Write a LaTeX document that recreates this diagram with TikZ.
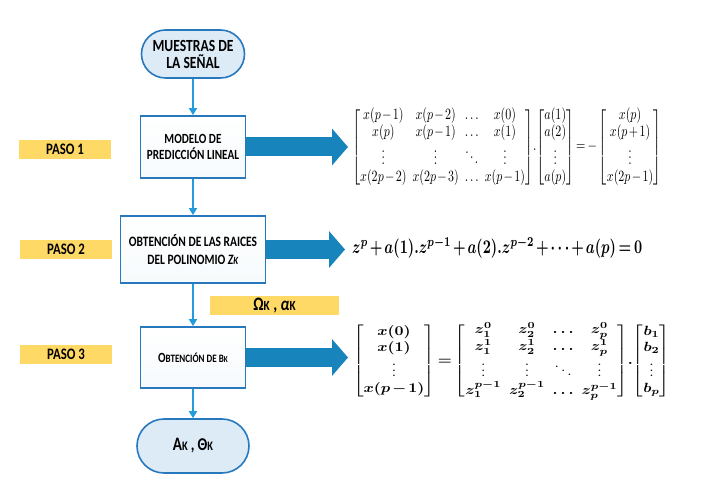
\documentclass[tikz,border=0pt]{standalone}
\usepackage{fontspec}
\usepackage{amsmath}
\usepackage{graphicx}
\usetikzlibrary{arrows.meta,shapes.misc,calc}
\newfontfamily\calib[FakeStretch=0.8]{Carlito}
\definecolor{boxblue}{RGB}{40,120,190}
\definecolor{termfill}{RGB}{221,235,247}
\definecolor{lineblue}{RGB}{35,155,220}
\definecolor{arrowblue}{RGB}{24,132,188}
\definecolor{pasoyellow}{RGB}{255,217,102}
\definecolor{boxfill}{RGB}{246,250,252}
\newcommand\tightmath[1]{\setlength{\arraycolsep}{2.5pt}\renewcommand{\arraystretch}{#1}\medmuskip=2mu\relax\thickmuskip=3mu\relax}
\tikzset{
  term/.style={rounded rectangle, draw=boxblue, line width=1.6pt, fill=termfill,
    minimum width=103pt, minimum height=48pt, inner sep=0pt, align=center,
    font=\calib\bfseries\fontsize{17}{19}\selectfont},
  stepbox/.style={rectangle, draw=boxblue, line width=1.8pt, top color=white, bottom color=boxfill,
    minimum width=105pt, minimum height=62pt, inner sep=0pt, align=center,
    font=\calib\bfseries},
  paso/.style={rectangle, fill=pasoyellow, minimum width=92pt, minimum height=19pt,
    inner sep=0pt, font=\calib\bfseries\fontsize{16}{18}\selectfont},
  flow/.style={draw=lineblue, line width=1.8pt, -{Triangle[width=8pt,length=7pt]}},
  bigarrow/.style={draw=arrowblue, line width=19pt, -{Triangle[width=36pt,length=16pt]}},
  eqn/.style={inner sep=0pt, anchor=west},
  boldeqn/.style={eqn, font=\boldmath},
}
\begin{document}
\begin{tikzpicture}[x=1pt,y=-1pt]
\useasboundingbox (0,0) rectangle (715,502);
% flow nodes
\node[term] (t0) at (193,54) {MUESTRAS DE\\[-2pt]LA SEÑAL};
\node[stepbox, font=\calib\bfseries\fontsize{14}{16.5}\selectfont] (b1) at (193,147) {MODELO DE\\PREDICCIÓN LINEAL};
\node[stepbox, minimum width=145pt, minimum height=67pt, font=\calib\bfseries\fontsize{14.3}{18}\selectfont] (b2) at (193,249.5) {OBTENCIÓN DE LAS RAICES\\DEL POLINOMIO \textit{Z\fontsize{11}{12}\selectfont K}};
\node[stepbox, minimum height=61pt] (b3) at (193,357.5) {{\fontsize{14}{15}\selectfont O}{\fontsize{11.3}{13}\selectfont BTENCIÓN DE B}{\fontsize{9}{10}\selectfont K}};
\node[term, minimum width=112pt, minimum height=54pt] (t1) at (193,446) {{\fontsize{19}{20}\selectfont A}{\fontsize{13}{14}\selectfont K}{\fontsize{18}{20}\selectfont\,, Θ}{\fontsize{13}{14}\selectfont K}};
% labels
\node[paso] (p1) at (65,149.5) {PASO 1};
\node[paso] (p2) at (66,249.5) {PASO 2};
\node[paso] (p3) at (66,354.5) {PASO 3};
\node[paso, minimum width=129pt, font=\calib\bfseries\fontsize{19}{20}\selectfont] (om) at (274.5,305.5) {Ω{\fontsize{14}{15}\selectfont K} , \textit{α}{\fontsize{14}{15}\selectfont K}};
% equations
\node[eqn] (e1) at (352,147) {\resizebox*{309pt}{78pt}{\tightmath{0.85}$\left[\begin{matrix} x(p-1) & x(p-2) & \ldots & x(0)\\ x(p) & x(p-1) & \ldots & x(1)\\ \vdots & \vdots & \ddots & \vdots\\ x(2p-2) & x(2p-3) & \ldots & x(p-1)\end{matrix}\right]\!.\!\left[\begin{matrix} a(1)\\ a(2)\\ \vdots\\ a(p)\end{matrix}\right] = -\left[\begin{matrix} x(p)\\ x(p+1)\\ \vdots\\ x(2p-1)\end{matrix}\right]$}};
\node[boldeqn] (e2) at (352,248) {\resizebox*{290pt}{21pt}{\tightmath{1}$z^p + a(1).z^{p-1} + a(2).z^{p-2} + \cdots + a(p) = 0$}};
\node[boldeqn] (e3) at (353,361) {\resizebox*{317pt}{78pt}{\tightmath{1}$\left[\begin{matrix} x(0)\\ x(1)\\ \vdots\\ x(p-1)\end{matrix}\right] = \left[\begin{matrix} z_1^0 & z_2^0 & \ldots & z_p^0\\ z_1^1 & z_2^1 & \ldots & z_p^1\\ \vdots & \vdots & \ddots & \vdots\\ z_1^{p-1} & z_2^{p-1} & \ldots & z_p^{p-1}\end{matrix}\right]\!.\!\left[\begin{matrix} b_1\\ b_2\\ \vdots\\ b_p\end{matrix}\right]$}};
% connectors
\draw[flow] (t0) -- (b1);
\draw[flow] (b1) -- (b2);
\draw[flow] (b2) -- (b3);
\draw[flow] (b3) -- (t1);
\draw[bigarrow, shorten >=4pt] (b1.east) -- (b1.east -| e1.west);
\draw[bigarrow, shorten >=7pt] (b2.east) -- (b2.east -| e2.west);
\draw[bigarrow, shorten >=5pt] (b3.east) -- (b3.east -| e3.west);
\end{tikzpicture}
\end{document}
